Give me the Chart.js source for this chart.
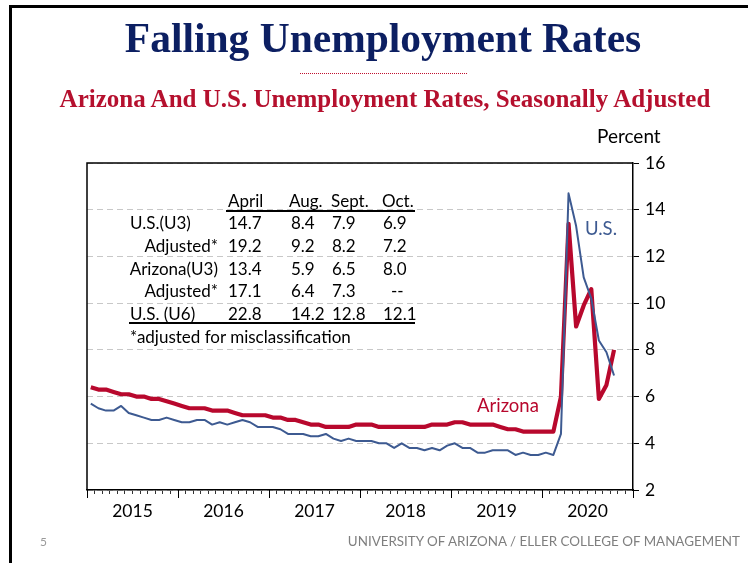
<!DOCTYPE html>
<html>
<head>
<meta charset="utf-8">
<script src="https://cdn.jsdelivr.net/npm/chart.js@4.4.1/dist/chart.umd.min.js"></script>
<style>
html,body{margin:0;padding:0;background:#fff;}
#wrap{position:relative;width:748px;height:563px;overflow:hidden;background:#fff;}
#c{position:absolute;left:0;top:0;}
.t{position:absolute;white-space:nowrap;line-height:1;}
#frame{position:absolute;left:9px;top:5px;width:800px;height:700px;border-left:3px solid #000;border-top:3px solid #000;}
.serif{font-family:"Liberation Serif","Times New Roman",serif;font-weight:bold;}
.sans{font-family:Lato,"Open Sans",sans-serif;}
</style>
</head>
<body>
<div id="wrap">
  <div id="frame"></div>
  <canvas id="c" width="748" height="563"></canvas>
  <div class="t serif" id="title" style="left:383px;top:18px;font-size:41.5px;color:#0c1f62;transform:translateX(-50%);">Falling Unemployment Rates</div>
  <div style="position:absolute;left:300px;top:73px;width:167px;border-top:1px dotted #c0102e;"></div>
  <div class="t serif" id="subtitle" style="left:385px;top:86px;font-size:25px;color:#b5102e;transform:translateX(-50%);">Arizona And U.S. Unemployment Rates, Seasonally Adjusted</div>
  <div class="t sans" style="left:597px;top:125.5px;font-size:19px;color:#000;">Percent</div>
  <div class="t sans" style="left:585px;top:219px;font-size:18.5px;color:#3d5a91;">U.S.</div>
  <div class="t sans" style="left:477px;top:395.5px;font-size:18.5px;color:#b8082d;">Arizona</div>
  <div id="table"></div>
  <div class="t sans" style="left:40px;top:536px;font-size:12px;color:#9a9a9a;">5</div>
  <div class="t sans" style="right:8px;top:535px;font-size:13.4px;color:#7f7f7f;">UNIVERSITY OF ARIZONA / ELLER COLLEGE OF MANAGEMENT</div>
</div>
<script>
// ---- Data ----
const years = ['2015', '2016', '2017', '2018', '2019', '2020'];
// Monthly, Jan 2015 .. Oct 2020
const usRate = [
  5.7, 5.5, 5.4, 5.4, 5.6, 5.3, 5.2, 5.1, 5.0, 5.0, 5.1, 5.0,
  4.9, 4.9, 5.0, 5.0, 4.8, 4.9, 4.8, 4.9, 5.0, 4.9, 4.7, 4.7,
  4.7, 4.6, 4.4, 4.4, 4.4, 4.3, 4.3, 4.4, 4.2, 4.1, 4.2, 4.1,
  4.1, 4.1, 4.0, 4.0, 3.8, 4.0, 3.8, 3.8, 3.7, 3.8, 3.7, 3.9,
  4.0, 3.8, 3.8, 3.6, 3.6, 3.7, 3.7, 3.7, 3.5, 3.6, 3.5, 3.5,
  3.6, 3.5, 4.4, 14.7, 13.3, 11.1, 10.2, 8.4, 7.9, 6.9
];
const azRate = [
  6.4, 6.3, 6.3, 6.2, 6.1, 6.1, 6.0, 6.0, 5.9, 5.9, 5.8, 5.7,
  5.6, 5.5, 5.5, 5.5, 5.4, 5.4, 5.4, 5.3, 5.2, 5.2, 5.2, 5.2,
  5.1, 5.1, 5.0, 5.0, 4.9, 4.8, 4.8, 4.7, 4.7, 4.7, 4.7, 4.8,
  4.8, 4.8, 4.7, 4.7, 4.7, 4.7, 4.7, 4.7, 4.7, 4.8, 4.8, 4.8,
  4.9, 4.9, 4.8, 4.8, 4.8, 4.8, 4.7, 4.6, 4.6, 4.5, 4.5, 4.5,
  4.5, 4.5, 6.0, 13.4, 9.0, 9.9, 10.6, 5.9, 6.5, 8.0
];
const yMin = 2, yMax = 16, yStep = 2;

// Inset table
const tableHeader = ['April', 'Aug.', 'Sept.', 'Oct.'];
const tableRowLabels = ['U.S.(U3)', 'Adjusted*', 'Arizona(U3)', 'Adjusted*', 'U.S. (U6)'];
const tableRowIndent = [false, true, true, true, false];
const tableValues = [
  ['14.7', '8.4', '7.9', '6.9'],
  ['19.2', '9.2', '8.2', '7.2'],
  ['13.4', '5.9', '6.5', '8.0'],
  ['17.1', '6.4', '7.3', '--'],
  ['22.8', '14.2', '12.8', '12.1']
];
const tableNote = '*adjusted for misclassification';

// ---- Table (HTML) ----
(function(){
  const host = document.getElementById('table');
  const fs = 17;
  const colX = [228, 291, 332, 383];
  const hdrX = [228, 289, 331, 382];
  const baseTop = 206.7 - 0.887*fs;
  const step = 22.7;
  function add(txt, left, top, right){
    const d = document.createElement('div');
    d.className = 't sans';
    d.style.fontSize = fs + 'px';
    d.style.color = '#000';
    d.style.top = top + 'px';
    if (right !== undefined) { d.style.right = (748 - right) + 'px'; }
    else d.style.left = left + 'px';
    d.textContent = txt;
    host.appendChild(d);
  }
  tableHeader.forEach((h,i)=>add(h, hdrX[i], baseTop));
  tableRowLabels.forEach((lab, r)=>{
    const top = baseTop + step*(r+1);
    if (tableRowIndent[r]) add(lab, 0, top, 218); else add(lab, 130, top);
    tableValues[r].forEach((v,c)=>{
      const x = v === '--' ? colX[c] + 8 : colX[c];
      add(v, x, top);
    });
  });
  add(tableNote, 130, baseTop + step*6);
  const l1 = document.createElement('div');
  l1.style.cssText = 'position:absolute;left:226px;top:210px;width:189px;height:2px;background:#000;';
  host.appendChild(l1);
  const l2 = document.createElement('div');
  l2.style.cssText = 'position:absolute;left:129px;top:322px;width:286px;height:2px;background:#000;';
  host.appendChild(l2);
})();

// ---- Chart ----
const RED = '#b8082d';
const BLUE = '#3d5a91';

const boxPlugin = {
  id: 'box',
  afterDraw(chart) {
    const {ctx, chartArea: a, scales: {x}} = chart;
    ctx.save();
    ctx.strokeStyle = '#000';
    ctx.lineWidth = 1.5;
    ctx.beginPath();
    ctx.moveTo(a.left, a.bottom);
    ctx.lineTo(a.left, a.top);
    ctx.lineTo(a.right, a.top);
    ctx.stroke();
    // longer year-boundary ticks
    ctx.lineWidth = 1;
    for (let v = 0; v <= 72; v += 12) {
      const px = Math.round(x.getPixelForValue(v)) + 0.5;
      ctx.beginPath();
      ctx.moveTo(px, a.bottom);
      ctx.lineTo(px, a.bottom + 8);
      ctx.stroke();
    }
    ctx.restore();
  }
};

new Chart(document.getElementById('c'), {
  type: 'line',
  data: {
    datasets: [
      {
        label: 'U.S.',
        data: usRate.map((v, i) => ({x: i + 0.5, y: v})),
        borderColor: BLUE, borderWidth: 2, pointRadius: 0, tension: 0,
        borderJoinStyle: 'round'
      },
      {
        label: 'Arizona',
        data: azRate.map((v, i) => ({x: i + 0.5, y: v})),
        borderColor: RED, borderWidth: 4.2, pointRadius: 0, tension: 0,
        borderJoinStyle: 'round'
      }
    ]
  },
  options: {
    responsive: false,
    animation: false,
    events: [],
    layout: {padding: {left: 87, top: 163, right: 0, bottom: 0}},
    plugins: {legend: {display: false}, tooltip: {enabled: false}, title: {display: false}},
    scales: {
      x: {
        type: 'linear', min: 0, max: 72,
        afterFit(s) { s.height = 73; },
        ticks: {
          stepSize: 1, maxTicksLimit: 200, autoSkip: false, maxRotation: 0, minRotation: 0,
          callback: (v) => (v % 12 === 6 ? years[(v - 6) / 12] : ''),
          color: '#000', font: {family: 'Lato', size: 17.5}, padding: 7
        },
        grid: {drawOnChartArea: false, drawTicks: true, tickLength: 4, tickColor: '#333', tickWidth: 1},
        border: {display: true, color: '#000', width: 1.5}
      },
      y: {
        position: 'right', min: yMin, max: yMax,
        afterFit(s) { s.width = 115; },
        ticks: {stepSize: yStep, color: '#000', font: {family: 'Lato', size: 17.5}, padding: 6},
        grid: {color: '#c8c8c8', lineWidth: 1, drawTicks: true, tickLength: 6, tickColor: '#000', tickWidth: 1, tickBorderDash: []},
        border: {display: true, color: '#000', width: 1.5, dash: [6, 4]}
      }
    }
  },
  plugins: [boxPlugin]
});
</script>
</body>
</html>
